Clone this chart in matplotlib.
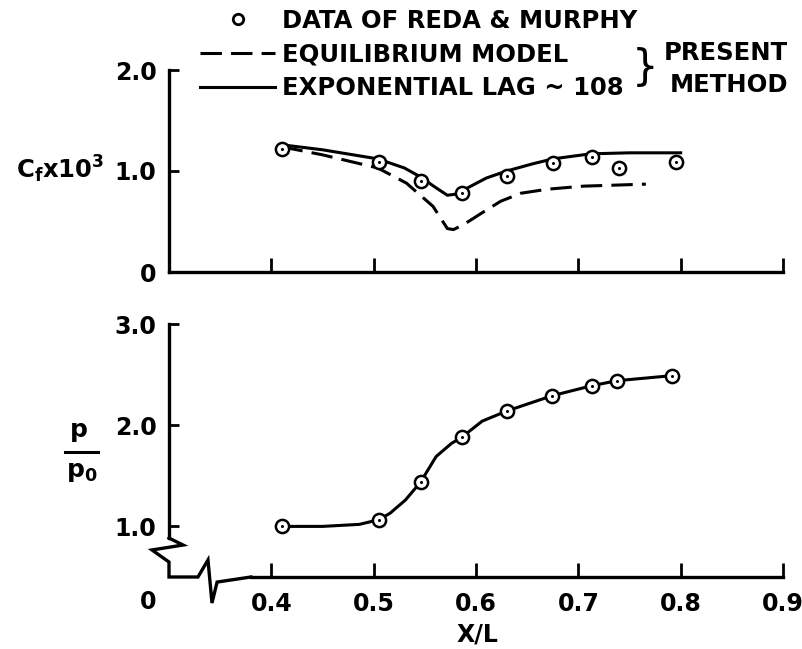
import matplotlib
matplotlib.use("Agg")
import matplotlib.pyplot as plt
from matplotlib.lines import Line2D

# ---------------- data ----------------
x_data = [0.41, 0.505, 0.546, 0.586, 0.630, 0.675, 0.713, 0.740, 0.795]
cf_data = [1.22, 1.086, 0.90, 0.78, 0.95, 1.076, 1.135, 1.03, 1.086]
p_x_data = [0.41, 0.505, 0.546, 0.586, 0.630, 0.674, 0.713, 0.738, 0.792]
p_data = [1.00, 1.066, 1.44, 1.88, 2.14, 2.29, 2.39, 2.44, 2.49]

lag_x = [0.41, 0.45, 0.504, 0.53, 0.546, 0.56, 0.572, 0.58, 0.595, 0.61, 0.63, 0.655, 0.675, 0.712, 0.75, 0.80]
lag_cf = [1.26, 1.21, 1.12, 1.03, 0.94, 0.84, 0.76, 0.77, 0.85, 0.93, 1.00, 1.07, 1.12, 1.17, 1.18, 1.18]

eq_x = [0.41, 0.45, 0.504, 0.532, 0.558, 0.572, 0.578, 0.588, 0.605, 0.624, 0.644, 0.67, 0.705, 0.766]
eq_cf = [1.24, 1.16, 1.03, 0.88, 0.65, 0.43, 0.42, 0.47, 0.58, 0.70, 0.78, 0.82, 0.85, 0.87]

pc_x = [0.41, 0.45, 0.486, 0.505, 0.516, 0.531, 0.546, 0.561, 0.576, 0.586, 0.606, 0.630, 0.674, 0.713, 0.738, 0.792]
pc_y = [1.00, 1.00, 1.02, 1.066, 1.13, 1.26, 1.44, 1.69, 1.82, 1.88, 2.04, 2.14, 2.29, 2.39, 2.44, 2.49]

x_ticks = [0.4, 0.5, 0.6, 0.7, 0.8, 0.9]
x_ticklabels = ["0.4", "0.5", "0.6", "0.7", "0.8", "0.9"]
cf_ticks = [0, 1.0, 2.0]
cf_ticklabels = ["0", "1.0", "2.0"]
p_ticks = [1.0, 2.0, 3.0]
p_ticklabels = ["1.0", "2.0", "3.0"]

legend_labels = ["DATA OF REDA & MURPHY", "EQUILIBRIUM MODEL", "EXPONENTIAL LAG ~ 108"]

# ---------------- style ----------------
W, H = 803, 649
FONT = "DejaVu Sans"
TICKFS = 17
LEGFS = 17.5
LW = 2.2
SPW = 2.4

plt.rcParams["font.family"] = [FONT]
plt.rcParams["mathtext.fontset"] = "dejavusans"

fig = plt.figure(figsize=(W / 100, H / 100), dpi=100)


def fx(px):
    return px / W


def fy(py):
    return 1 - py / H


ax1 = fig.add_axes([fx(169), fy(272), fx(783) - fx(169), fy(70) - fy(272)])
ax2 = fig.add_axes([fx(169), fy(577), fx(783) - fx(169), fy(324) - fy(577)])

for ax in (ax1, ax2):
    ax.set_facecolor("none")
    ax.set_xlim(0.3, 0.9)
    for s in ("top", "right"):
        ax.spines[s].set_visible(False)
    for s in ("left", "bottom"):
        ax.spines[s].set_linewidth(SPW)
        ax.spines[s].set_capstyle("projecting")
    ax.set_xticks(x_ticks)
    ax.tick_params(axis="x", direction="in", length=10, width=2.0, pad=11)
    ax.tick_params(axis="y", direction="in", length=7.5, width=2.0, pad=9)

ax1.set_ylim(0, 2.0)
ax1.set_yticks(cf_ticks)
ax1.set_yticklabels(cf_ticklabels, fontsize=TICKFS, fontweight="bold")
ax1.tick_params(axis="x", labelbottom=False)

ax2.set_ylim(0.5, 3.0)
ax2.set_yticks(p_ticks)
ax2.set_yticklabels(p_ticklabels, fontsize=TICKFS, fontweight="bold")
ax2.set_xticklabels(x_ticklabels, fontsize=TICKFS, fontweight="bold")
ax2.spines["left"].set_bounds(0.885, 3.0)
ax2.spines["bottom"].set_bounds(0.38, 0.9)

# axis break zig-zags
ax2.plot([0.3, 0.3137, 0.2834, 0.3, 0.3, 0.3283, 0.3381, 0.342, 0.347, 0.38],
         [0.885, 0.816, 0.767, 0.648, 0.5, 0.5, 0.668, 0.243, 0.45, 0.5],
         color="black", lw=SPW, clip_on=False, solid_joinstyle="miter")
ax2.text(0.2795, 0.5 - 25 / 101.3, "0", fontsize=TICKFS, fontweight="bold",
         ha="center", va="center", clip_on=False)

# ---------------- curves ----------------
h_eq, = ax1.plot(eq_x, eq_cf, color="black", lw=LW, dashes=(7, 3), clip_on=False)
h_lag, = ax1.plot(lag_x, lag_cf, color="black", lw=LW, clip_on=False)
ax1.plot(x_data, cf_data, "o", ms=9.5, mfc="white", mec="black", mew=1.8, clip_on=False, zorder=5)
ax1.plot(x_data, cf_data, "o", ms=2.2, mfc="black", mec="black", mew=0, clip_on=False, zorder=6)

ax2.plot(pc_x, pc_y, color="black", lw=LW, clip_on=False)
ax2.plot(p_x_data, p_data, "o", ms=9.5, mfc="white", mec="black", mew=1.8, clip_on=False, zorder=5)
ax2.plot(p_x_data, p_data, "o", ms=2.2, mfc="black", mec="black", mew=0, clip_on=False, zorder=6)

# ---------------- legend ----------------
h_dat = Line2D([], [], ls="none", marker="o", ms=7.5, mfc="white", mec="black", mew=2.0)
leg = fig.legend([h_dat, h_eq, h_lag], legend_labels, loc="upper left",
                 bbox_to_anchor=(fx(200), fy(9)), frameon=False,
                 prop={"family": FONT, "weight": "bold", "size": LEGFS},
                 handlelength=3.1, handletextpad=0.29, labelspacing=0.4,
                 borderpad=0, borderaxespad=0)

fig.text(fx(645), fy(68), "}", fontsize=30, ha="center", va="center", fontweight="normal")
fig.text(fx(788), fy(53), "PRESENT", fontsize=LEGFS, fontweight="bold", ha="right", va="center")
fig.text(fx(788), fy(85), "METHOD", fontsize=LEGFS, fontweight="bold", ha="right", va="center")

# ---------------- axis titles ----------------
fig.text(fx(60), fy(169), r"$\mathbf{C_f x10^3}$", fontsize=17.5, ha="center", va="center")
fig.text(fx(78), fy(432), r"$\mathbf{p}$", fontsize=18, ha="center", va="center")
fig.add_artist(Line2D([fx(65), fx(98)], [fy(452), fy(452)], color="black", lw=LW,
                      transform=fig.transFigure))
fig.text(fx(82), fy(472), r"$\mathbf{p_0}$", fontsize=18, ha="center", va="center")
fig.text(fx(477), fy(635), "X/L", fontsize=TICKFS, fontweight="bold", ha="center", va="center")

fig.savefig("out.png", dpi=100, facecolor="white")
